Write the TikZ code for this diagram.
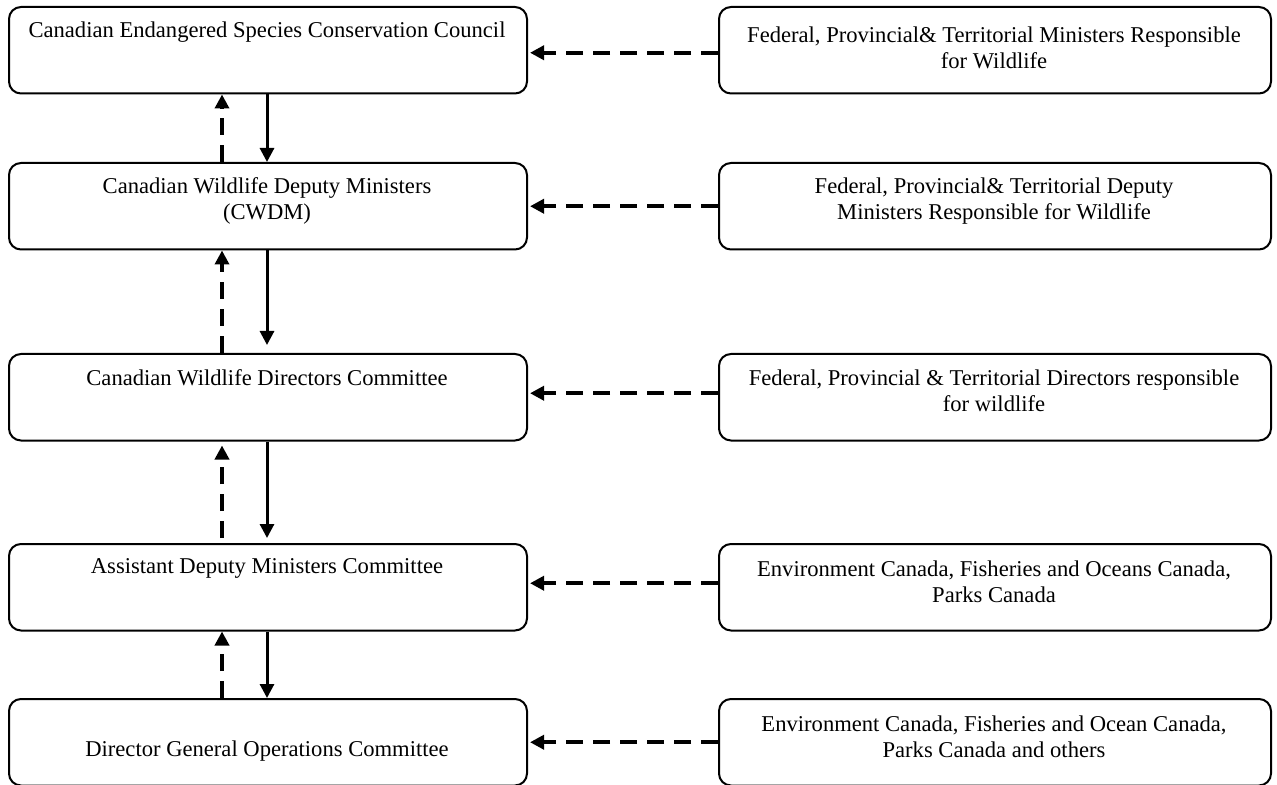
\documentclass[tikz,border=0pt]{standalone}
\usepackage{fontspec}
\setmainfont{Liberation Serif}
\usetikzlibrary{arrows.meta}
\begin{document}
\begin{tikzpicture}[x=0.5pt,y=-0.5pt,
  box/.style={draw,line width=1pt,rounded corners=6pt,anchor=north west,inner sep=0pt},
  lbox/.style={box,minimum width=259pt,minimum height=43.25pt},
  rbox/.style={box,minimum width=276pt,minimum height=43.25pt},
  txt/.style={font=\fontsize{11.3}{13}\selectfont,align=center,inner sep=0pt},
  dasharrow/.style={line width=1.8pt,dash pattern=on 8.5pt off 5pt,-{Triangle[width=7pt,length=7pt]}},
  solarrow/.style={line width=1.5pt,-{Triangle[width=7pt,length=7pt]}}]
\useasboundingbox (0,0) rectangle (1277,785);
\coordinate (xd) at (222,0);
\coordinate (xs) at (267,0);
% left boxes
\node[lbox] (l1) at (8,6) {};
\node[lbox] (l2) at (8,162) {};
\node[lbox] (l3) at (8,353) {};
\node[lbox] (l4) at (8,543) {};
\node[lbox] (l5) at (8,698) {};
% right boxes
\node[rbox] (r1) at (718,6) {};
\node[rbox] (r2) at (718,162) {};
\node[rbox] (r3) at (718,353) {};
\node[rbox] (r4) at (718,543) {};
\node[rbox] (r5) at (718,698) {};
% texts
\node[txt] (t1) at (267,32) {Canadian Endangered Species Conservation Council};
\node[txt] (t2) at (267,201) {Canadian Wildlife Deputy Ministers\\(CWDM)};
\node[txt] (t3) at (267,378) {Canadian Wildlife Directors Committee};
\node[txt] (t4) at (267,568) {Assistant Deputy Ministers Committee};
\node[txt] (t5) at (267,751) {Director General Operations Committee};
\node[txt] (u1) at (994,48) {Federal, Provincial\& Territorial Ministers Responsible\\for Wildlife};
\node[txt] (u2) at (994,201) {Federal, Provincial\& Territorial Deputy\\Ministers Responsible for Wildlife};
\node[txt] (u3) at (994,391) {Federal, Provincial \& Territorial Directors responsible\\for wildlife};
\node[txt] (u4) at (994,582) {Environment Canada, Fisheries and Oceans Canada,\\Parks Canada};
\node[txt] (u5) at (994,737) {Environment Canada, Fisheries and Ocean Canada,\\Parks Canada and others};
% horizontal dashed arrows
\draw[dasharrow,shorten >=1pt] ([yshift=-1.25pt]r1.west) -- ([yshift=-1.25pt]l1.east);
\draw[dasharrow,shorten >=1pt] (r2.west) -- (l2.east);
\draw[dasharrow,shorten >=1pt] ([yshift=2pt]r3.west) -- ([yshift=2pt]l3.east);
\draw[dasharrow,shorten >=1pt] ([yshift=2pt]r4.west) -- ([yshift=2pt]l4.east);
\draw[dasharrow,shorten >=1pt] (r5.west) -- (l5.east);
% vertical arrows
\draw[dasharrow] (l2.north -| xd) -- (l1.south -| xd);
\draw[solarrow] (l1.south -| xs) -- (l2.north -| xs);
\draw[dasharrow] (l3.north -| xd) -- (l2.south -| xd);
\draw[solarrow,shorten >=4pt] (l2.south -| xs) -- (l3.north -| xs);
\draw[dasharrow,shorten <=2.5pt,shorten >=2pt] (l4.north -| xd) -- (l3.south -| xd);
\draw[solarrow,shorten >=2.5pt] (l3.south -| xs) -- (l4.north -| xs);
\draw[dasharrow] (l5.north -| xd) -- (l4.south -| xd);
\draw[solarrow] (l4.south -| xs) -- (l5.north -| xs);
\end{tikzpicture}
\end{document}
